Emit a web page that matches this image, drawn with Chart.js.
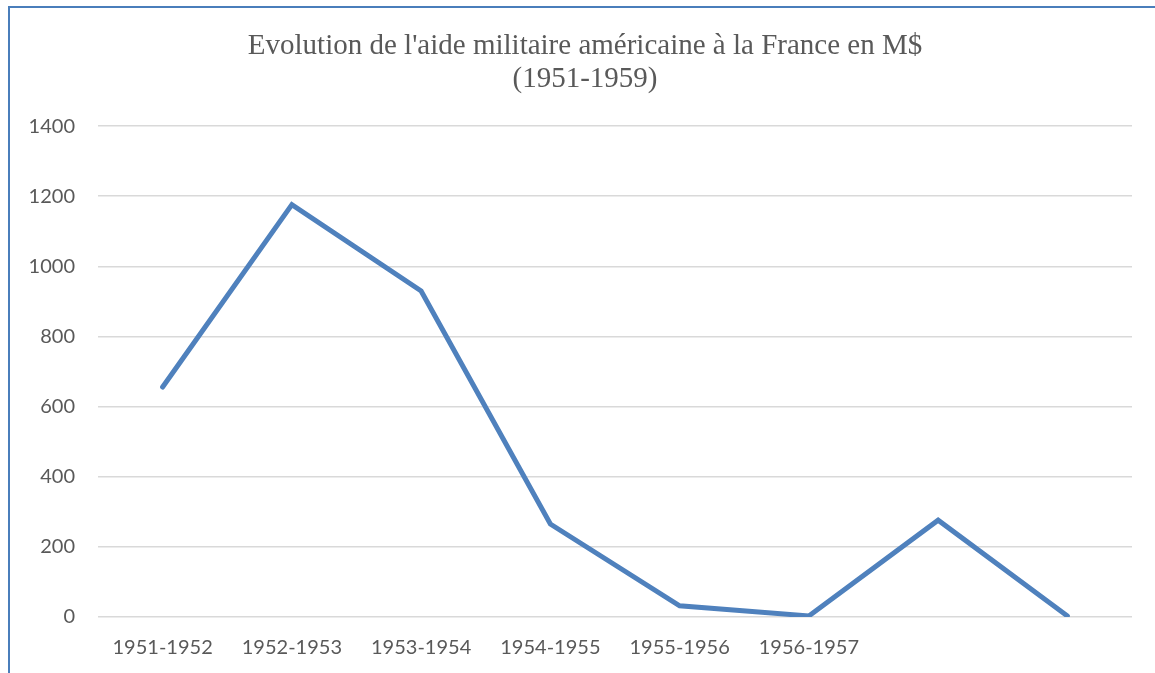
<!DOCTYPE html>
<html>
<head>
<meta charset="utf-8">
<script src="https://cdn.jsdelivr.net/npm/chart.js@4/dist/chart.umd.min.js"></script>
<style>
  html, body { margin: 0; padding: 0; background: #fff; }
  body { width: 1155px; height: 673px; position: relative; overflow: hidden; }
  #frame { position: absolute; left: 8px; top: 6px; width: 1160px; height: 680px;
           border-left: 2px solid #4a7ebb; border-top: 2px solid #4a7ebb; box-sizing: border-box; }
  #wrap { position: absolute; left: 10px; top: 7px; width: 1145px; height: 666px; }
</style>
</head>
<body>
<div id="frame"></div>
<div id="wrap"><canvas id="c" width="1145" height="666"></canvas></div>
<script>
const categories = ['1951-1952', '1952-1953', '1953-1954', '1954-1955', '1955-1956', '1956-1957', '', ''];
const aideMilitaire = [656, 1176, 930, 265, 32, 3, 276, 3];
const titleLines = ["Evolution de l'aide militaire américaine à la France en M$", '(1951-1959)'];

// nudge the title box slightly to the right, like the original layout
const shiftTitle = {
  id: 'shiftTitle',
  afterLayout(chart) {
    const t = chart.titleBlock;
    if (t) { t.left += 14; t.right += 14; }
  }
};

new Chart(document.getElementById('c'), {
  type: 'line',
  data: {
    labels: categories,
    datasets: [{
      label: 'Aide militaire',
      data: aideMilitaire,
      borderColor: '#4f81bd',
      borderWidth: 5,
      pointRadius: 0,
      tension: 0,
      fill: false,
      borderCapStyle: 'round'
    }]
  },
  plugins: [shiftTitle],
  options: {
    responsive: false,
    animation: false,
    layout: { padding: { left: 0, right: 23, top: 0, bottom: 0 } },
    plugins: {
      legend: { display: false },
      tooltip: { enabled: false },
      title: {
        display: true,
        text: titleLines,
        color: '#595959',
        font: { family: '"Liberation Serif", "Times New Roman", serif', size: 29, weight: 'normal', lineHeight: 1.14 },
        padding: { top: 23, bottom: 30 }
      }
    },
    scales: {
      x: {
        offset: true,
        grid: { display: false, drawTicks: false },
        border: { display: false },
        ticks: {
          autoSkip: false, maxRotation: 0, minRotation: 0,
          color: '#595959', padding: 19,
          font: { family: 'Lato, "Open Sans", sans-serif', size: 20 }
        },
        afterFit: s => { s.height = 56; }
      },
      y: {
        min: 0, max: 1400,
        ticks: {
          stepSize: 200, color: '#595959', padding: 23,
          font: { family: 'Lato, "Open Sans", sans-serif', size: 20 },
          callback: v => String(v)
        },
        grid: { color: '#d9d9d9', lineWidth: 1.5, drawTicks: false },
        border: { display: false },
        afterFit: s => { s.width = 88; }
      }
    }
  }
});
</script>
</body>
</html>
